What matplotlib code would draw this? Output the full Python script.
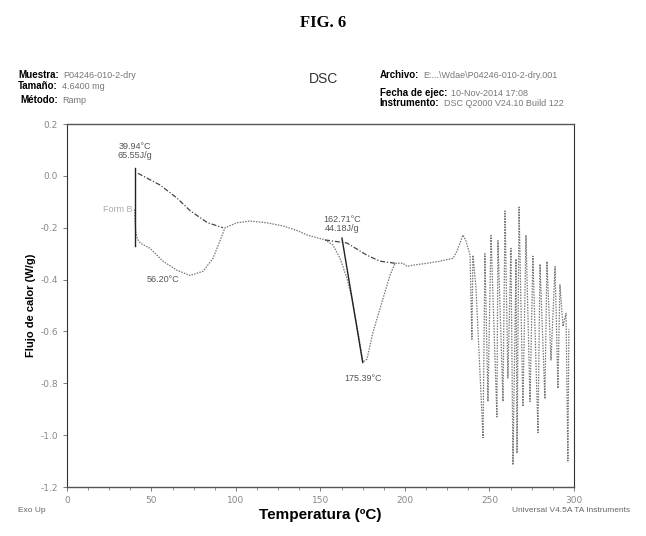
import matplotlib
matplotlib.use("Agg")
import matplotlib.pyplot as plt
from matplotlib.ticker import MultipleLocator

# DSC trace (temperature in C, heat flow in W/g)
temp = [40.0, 40.3, 40.8, 41.8, 43.5, 49.1, 56.8, 65.1, 72.8, 80.5, 86.4, 90.5,
        93.5, 100.6, 108.3, 118.3, 127.8, 136.7, 142.0, 152.7, 157.4, 161.5,
        165.7, 168.6, 172.2, 175.1, 177.5, 181.1, 187.0, 191.1, 194.1, 198.8,
        201.2, 204.1, 213.0, 220.7, 228.4, 230.8, 234.3, 236.1, 238.5,
        239.6, 240.2, 242.0, 246.2, 247.3, 249.1, 250.9, 254.4, 255.0, 258.0,
        259.2, 260.9, 262.7, 263.9, 265.7, 266.3, 267.5, 269.8, 271.6, 274.0,
        275.7, 278.7, 279.9, 282.8, 284.0, 286.4, 288.8, 290.5, 291.7, 293.5,
        295.3, 296.4, 297.0]
flow = [-0.13, -0.18, -0.22, -0.245, -0.26, -0.279, -0.329, -0.364, -0.384,
        -0.368, -0.318, -0.251, -0.200, -0.181, -0.174, -0.181, -0.193, -0.212,
        -0.228, -0.247, -0.267, -0.317, -0.395, -0.473, -0.602, -0.718, -0.707,
        -0.602, -0.473, -0.384, -0.337, -0.337, -0.349, -0.345, -0.337, -0.329,
        -0.318, -0.290, -0.228, -0.251, -0.306,
        -0.63, -0.306, -0.43, -1.01, -0.30, -0.87, -0.23, -0.93, -0.25, -0.87,
        -0.135, -0.78, -0.28, -1.115, -0.32, -1.07, -0.12, -0.89, -0.23, -0.87,
        -0.31, -0.99, -0.34, -0.86, -0.33, -0.71, -0.35, -0.82, -0.42, -0.58,
        -0.53, -1.10, -0.59]

# integration baselines
base1_t = [42.0, 55.0, 65.0, 73.0, 83.0, 92.3]
base1_y = [0.01, -0.035, -0.085, -0.135, -0.18, -0.20]
base2_t = [152.7, 165.7, 177.5, 185.2, 194.0]
base2_y = [-0.247, -0.259, -0.306, -0.329, -0.337]

# tangent / marker lines
onset1_t = [40.0, 40.0]
onset1_y = [0.03, -0.27]
onset2_t = [162.7, 175.0]
onset2_y = [-0.24, -0.72]

# header block: (label, value, x, y) in figure fractions
header = [("Muestra:", "P04246-010-2-dry", 0.028, 0.860),
          ("Tamaño:", "4.6400 mg", 0.028, 0.839),
          ("Método:", "Ramp", 0.032, 0.813),
          ("Archivo:", "E:...\\Wdae\\P04246-010-2-dry.001", 0.588, 0.860),
          ("Fecha de ejec:", "10-Nov-2014 17:08", 0.588, 0.826),
          ("Instrumento:", "DSC Q2000 V24.10 Build 122", 0.588, 0.807)]

fig = plt.figure(figsize=(6.46, 5.36), dpi=100)
ax = fig.add_axes([0.1037, 0.0914, 0.7848, 0.6772])

ax.plot(temp, flow, color="#777777", lw=0.9, ls=(0, (1.2, 1.0)))
ax.plot(base1_t, base1_y, color="#444444", lw=0.9, ls=(0, (4, 1.5, 1, 1.5)))
ax.plot(base2_t, base2_y, color="#444444", lw=0.9, ls=(0, (4, 1.5, 1, 1.5)))
ax.plot(onset1_t, onset1_y, color="#222222", lw=1.0)
ax.plot(onset2_t, onset2_y, color="#222222", lw=1.0)

ax.set_xlim(0, 300)
ax.set_ylim(-1.2, 0.2)
ax.xaxis.set_major_locator(MultipleLocator(50))
ax.xaxis.set_minor_locator(MultipleLocator(12.5))
ax.set_yticks([0.2, 0.0, -0.2, -0.4, -0.6, -0.8, -1.0, -1.2])
ax.set_yticklabels(["0.2", "0.0", "-0.2", "-0.4", "-0.6", "-0.8", "-1.0", "-1.2"])
ax.tick_params(labelsize=6.5, labelcolor="#888888", color="#666666", length=3, width=0.6)
ax.tick_params(which="minor", length=2, width=0.5, color="#666666")

for side in ["left", "right"]:
    ax.spines[side].set_linestyle((0, (1, 1)))
    ax.spines[side].set_color("#333333")
for side in ["top", "bottom"]:
    ax.spines[side].set_color("#555555")
    ax.spines[side].set_linewidth(1.0)

ax.set_xlabel("Temperatura (ºC)", fontsize=11, fontweight="bold", family="Liberation Sans", labelpad=2)
ax.set_ylabel("Flujo de calor (W/g)", fontsize=8, fontweight="bold", family="Liberation Sans", labelpad=3)

ann = dict(fontsize=6.5, color="#555555", family="Liberation Sans")
ax.text(40, 0.06, "39.94°C\n65.55J/g", ha="center", va="bottom", linespacing=1.0, **ann)
ax.text(30, -0.13, "Form B", ha="center", va="center", fontsize=6.5, color="#aaaaaa", family="Liberation Sans")
ax.text(57, -0.40, "56.20°C", ha="center", va="center", **ann)
ax.text(163, -0.22, "162.71°C\n44.18J/g", ha="center", va="bottom", linespacing=1.0, **ann)
ax.text(175.5, -0.78, "175.39°C", ha="center", va="center", **ann)

fig.text(0.5, 0.957, "FIG. 6", ha="center", va="center", fontsize=12, fontweight="bold", family="Liberation Serif")
for lab, v, x, y in header:
    t = fig.text(x, y, lab, va="center", fontsize=7, fontweight="bold", family="Liberation Sans")
    ax.annotate(v, xy=(1, 0.5), xycoords=t, xytext=(3, 0), textcoords="offset points",
                va="center", ha="left", fontsize=6.5, color="#777777", family="Liberation Sans",
                annotation_clip=False)
fig.text(0.5, 0.853, "DSC", ha="center", va="center", fontsize=10, color="#333333", family="Liberation Sans")
fig.text(0.028, 0.048, "Exo Up", va="center", fontsize=6, color="#666666", family="Liberation Sans")
fig.text(0.975, 0.048, "Universal V4.5A TA Instruments", ha="right", va="center", fontsize=6, color="#666666", family="Liberation Sans")

fig.savefig("out.png", dpi=100)
